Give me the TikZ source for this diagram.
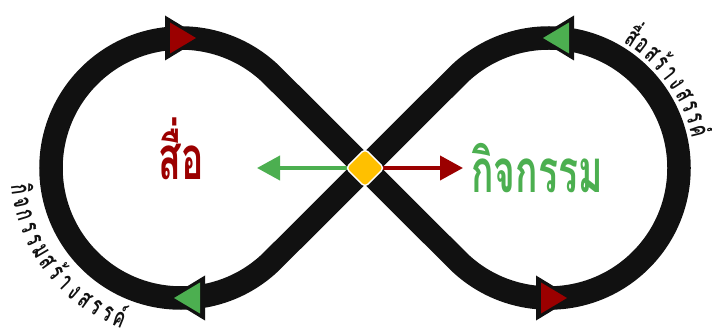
\documentclass[tikz,border=0pt]{standalone}
\usepackage{fontspec}
\newfontfamily\thaifont[Script=Thai,FakeStretch=0.62]{Loma}
\newfontfamily\thaismall[Script=Thai,FakeStretch=0.62]{Loma}
\usetikzlibrary{arrows.meta}
\definecolor{dred}{RGB}{155,0,0}
\definecolor{lgreen}{RGB}{76,175,80}
\definecolor{amber}{RGB}{255,192,0}
\definecolor{trackc}{RGB}{17,17,17}
\tikzset{trk/.pic={
  \fill[trackc] (-18pt,-22.5pt) -- (19pt,0pt) -- (-18pt,22.5pt) -- cycle;
  \fill[pic actions] (-13pt,-15.5pt) -- (13pt,0pt) -- (-13pt,15.5pt) -- cycle;
}}
\begin{document}
\begin{tikzpicture}[x=1pt,y=1pt,
  track/.style={draw=trackc, line width=23.5pt},
  harrow/.style={line width=4pt, -{Triangle[length=23pt,width=24pt]}},
  bigtxt/.style={anchor=base, inner sep=0pt, font=\thaifont\bfseries\fontsize{60}{60}\selectfont},
  arctxt/.style={anchor=base, inner sep=0pt, text=trackc, font=\thaismall\bfseries\fontsize{27}{27}\selectfont},
  diabox/.style={draw=white, line width=1.5pt, fill=amber, rounded corners=4pt, minimum size=27pt, inner sep=0pt, rotate=45}]
\useasboundingbox (0,0) rectangle (712,332);
\coordinate (c) at (365,164);
\coordinate (L) at (181,164);
\coordinate (R) at (549,164);
\draw[track] (c) -- ([shift={(45:130pt)}]L) arc[start angle=45,end angle=315,radius=130pt]
  -- (c) -- ([shift={(135:130pt)}]R) arc[start angle=135,end angle=-135,radius=130pt] -- cycle;
\pic[fill=dred] at (183,294) {trk};
\pic[fill=lgreen, xscale=-1] at (187,34) {trk};
\pic[fill=lgreen, xscale=-1] at (556,294) {trk};
\pic[fill=dred] at (554,34) {trk};
\coordinate (gtip) at (257,164);
\coordinate (rtip) at (463,164);
\draw[harrow, lgreen] (c) -- (gtip);
\draw[harrow, dred] (c) -- (rtip);
\node[diabox] (dia) at (c) {};
\node[bigtxt, text=dred] (media) at (181.5,152) {สื่อ};
\node[bigtxt, text=lgreen] (act) at (537,139) {กิจกรรม};
\foreach \g [count=\i from 0] in {กิ,จ,ก,ร,ร,ม,ส,ร้,า,ง,ส,ร,ร,ค์} {
  \pgfmathsetmacro\a{187.5+4.65*\i}
  \node[arctxt, rotate=\a+90] (lt\i) at ([shift={(\a:171pt)}]L) {\g};
}
\foreach \g [count=\i from 0] in {สื่,อ,ส,ร้,า,ง,ส,ร,ร,ค์} {
  \pgfmathsetmacro\a{57.5-4.85*\i}
  \node[arctxt, rotate=\a-90] (rt\i) at ([shift={(\a:146pt)}]R) {\g};
}
\end{tikzpicture}
\end{document}
